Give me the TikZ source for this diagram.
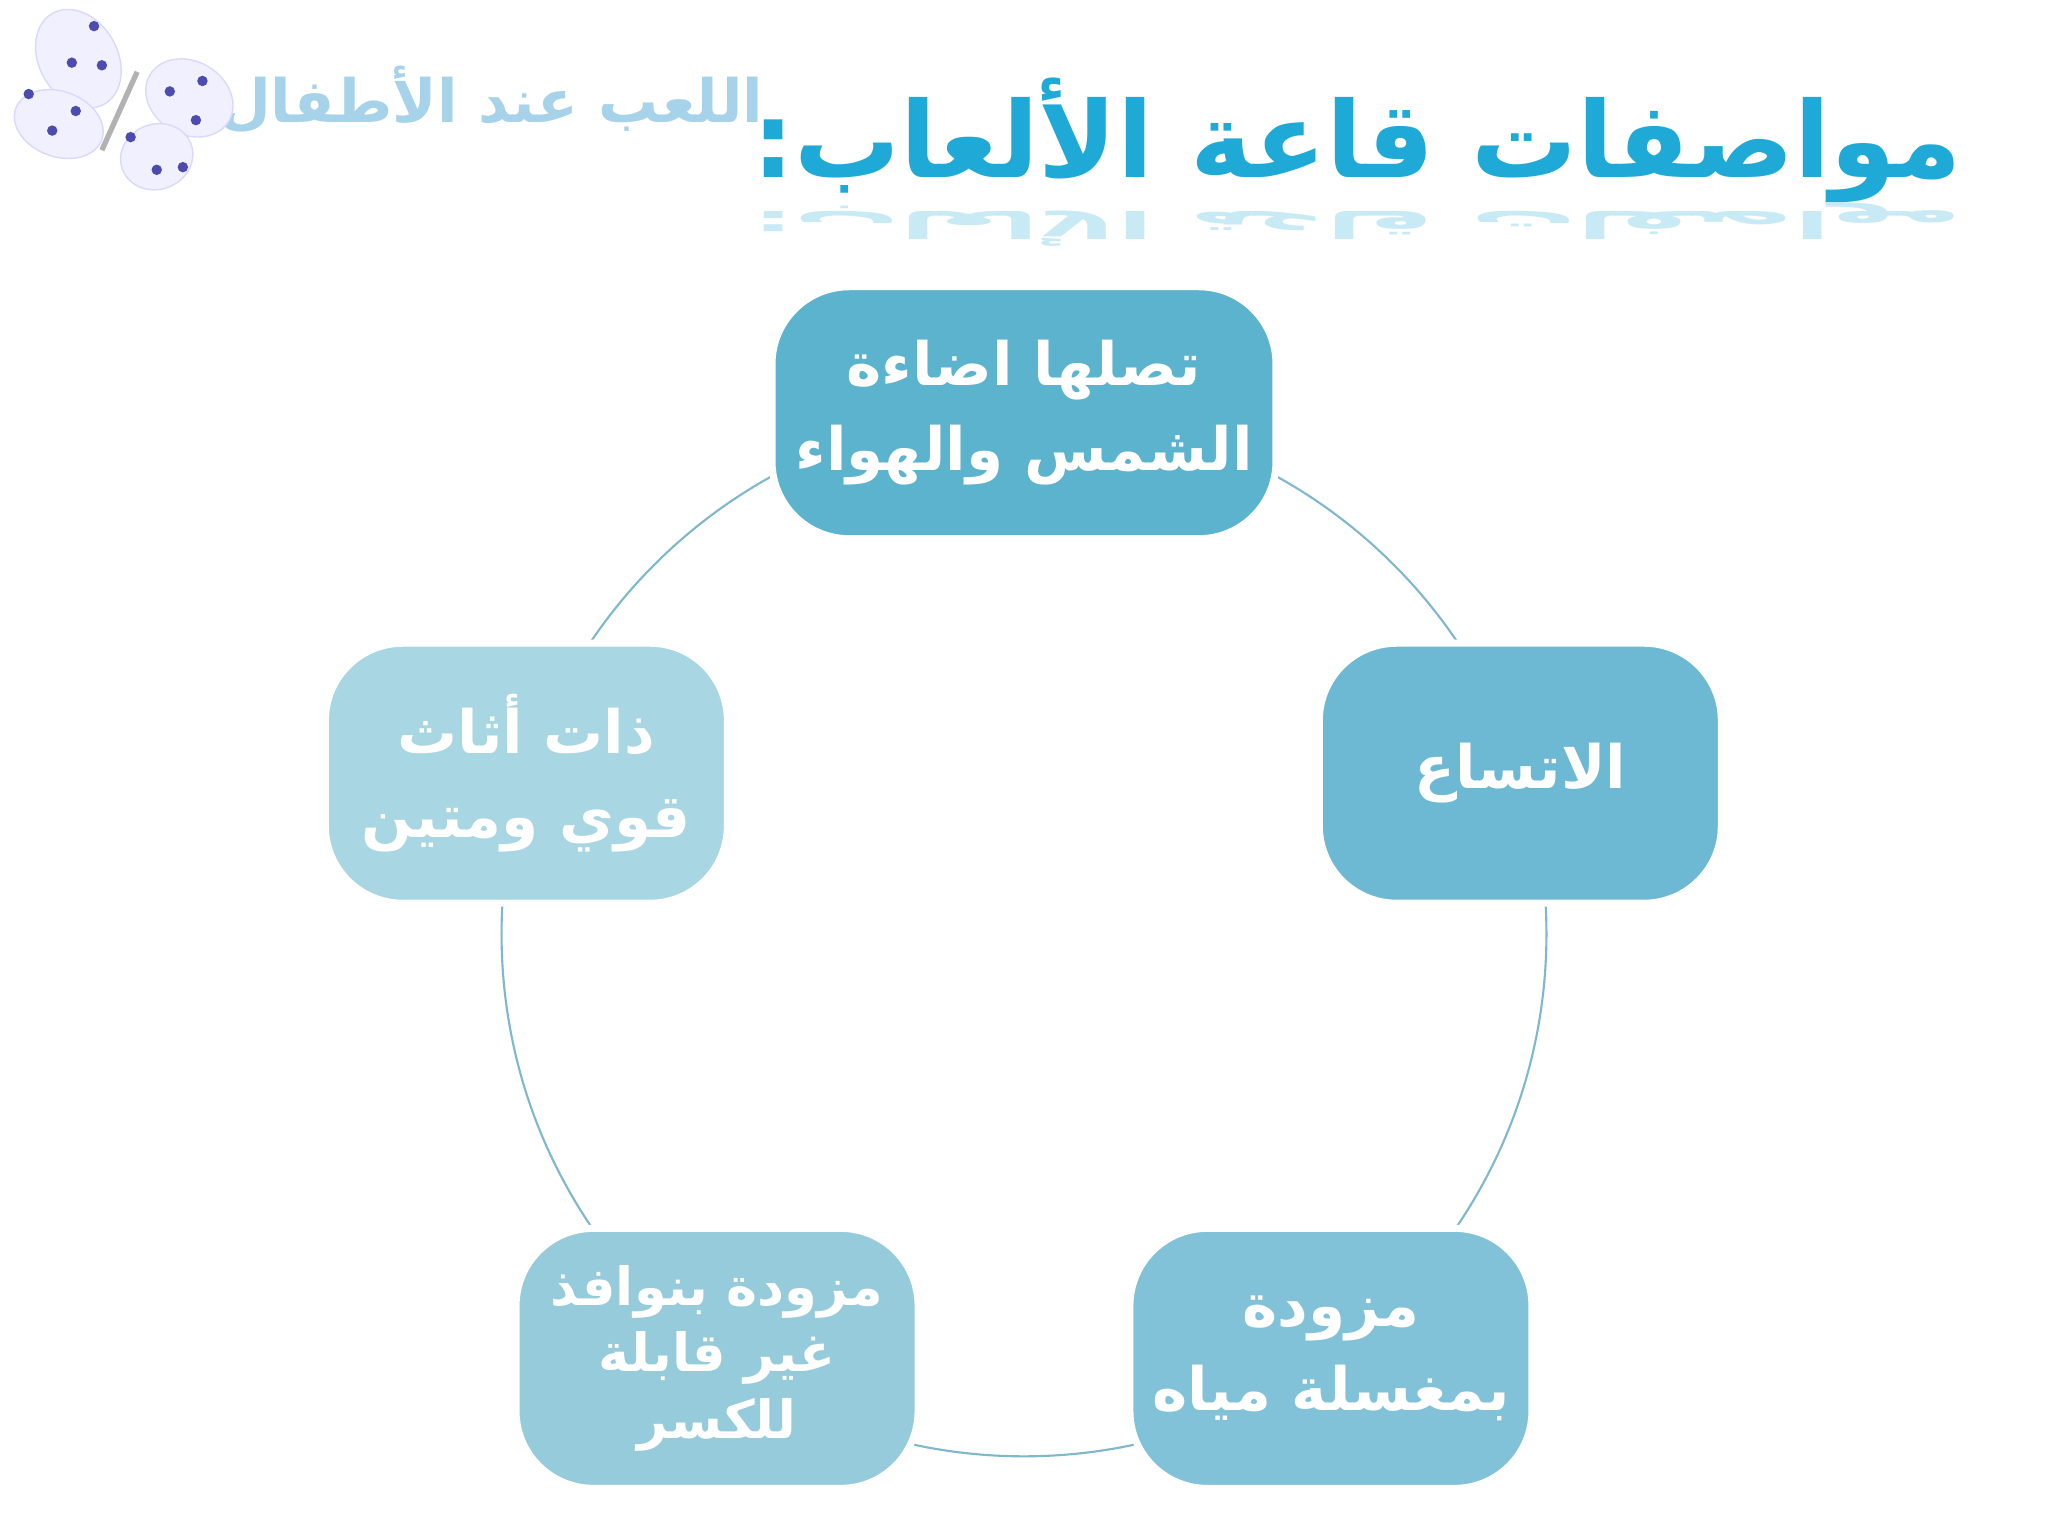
\documentclass[tikz,border=0pt]{standalone}
\usepackage{fontspec}
\TeXXeTstate=1
\newfontfamily\arabicfont[Script=Arabic]{DejaVu Sans}
\newcommand{\arl}[1]{\beginR #1\endR}
\definecolor{cA}{HTML}{5BB3CD}
\definecolor{cB}{HTML}{6DB9D3}
\definecolor{cC}{HTML}{82C2D8}
\definecolor{cD}{HTML}{96CBDC}
\definecolor{cE}{HTML}{A9D6E3}
\definecolor{ttl}{HTML}{1FA9D6}
\definecolor{sub}{HTML}{A6D3EA}
\definecolor{ring}{HTML}{7FB8CC}
\tikzset{
 box/.style={rounded corners=22pt,draw=white,line width=2pt,minimum width=#1,text=white,
   font=\arabicfont\bfseries\fontsize{17}{24}\selectfont,align=center,inner sep=0pt},
}
\begin{document}
\begin{tikzpicture}[x=0.013061cm,y=-0.013061cm]
\useasboundingbox (0,0) rectangle (1568,1176);
\fill[white] (0,0) rectangle (1568,1176);
% ring
\draw[ring,line width=0.6pt] (784,715) circle (400);
% boxes
\node[box=386\dimexpr0.013061cm\relax, fill=cA, minimum width=5.04cm, minimum height=2.52cm] (a) at (784,316) {\arl{تصلها اضاءة}\\\arl{الشمس والهواء}};
\node[box=0, fill=cB, minimum width=4.02cm, minimum height=2.60cm] (b) at (1164,592) {\arl{الاتساع}};
\node[box=0, fill=cC, minimum width=4.02cm, minimum height=2.60cm] (c) at (1019,1040) {\arl{مزودة}\\\arl{بمغسلة مياه}};
\node[box=0, fill=cD, minimum width=4.02cm, minimum height=2.60cm, font=\arabicfont\bfseries\fontsize{15}{19}\selectfont] (d) at (549,1040) {\arl{مزودة بنوافذ}\\\arl{غير قابلة}\\\arl{للكسر}};
\node[box=0, fill=cE, minimum width=4.02cm, minimum height=2.60cm] (e) at (403,592) {\arl{ذات أثاث}\\\arl{قوي ومتين}};
% title
\node[text=ttl, font=\arabicfont\bfseries\fontsize{30}{36}\selectfont, anchor=east] (t) at (1512,108) {\arl{مواصفات قاعة الألعاب:}};
\node[text=ttl!25, font=\arabicfont\bfseries\fontsize{30}{36}\selectfont, anchor=east, yscale=-0.35] (tr) at (1512,172) {\arl{مواصفات قاعة الألعاب:}};
% subtitle
\node[text=sub, font=\arabicfont\bfseries\fontsize{17}{20}\selectfont] (s) at (376,76) {\arl{اللعب عند الأطفال}};
% butterfly
\begin{scope}[fill=blue!6,draw=blue!15]
 \filldraw[rotate around={30:(60,45)}] (60,45) ellipse (30 and 40);
 \filldraw[rotate around={-20:(45,95)}] (45,95) ellipse (35 and 25);
 \filldraw[rotate around={-30:(145,75)}] (145,75) ellipse (35 and 28);
 \filldraw[rotate around={20:(120,120)}] (120,120) ellipse (28 and 25);
\end{scope}
\draw[gray!60,line width=1.5pt] (105,55) -- (78,115);
\foreach \p in {(72,20),(55,48),(78,50),(22,72),(58,85),(40,100),(130,70),(155,62),(150,92),(100,105),(120,130),(140,128)}
 \fill[blue!55!black!70] \p circle (4);
\end{tikzpicture}
\end{document}
